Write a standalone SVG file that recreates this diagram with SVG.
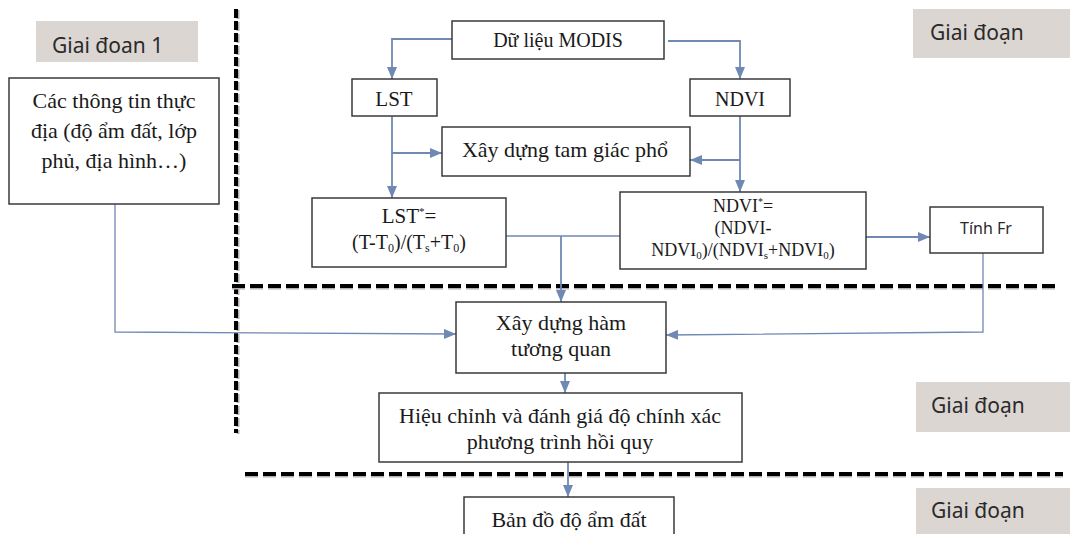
<svg xmlns="http://www.w3.org/2000/svg" width="1070" height="534" viewBox="0 0 1070 534">
<style>
.box{fill:#fff;stroke:#3a3a3a;stroke-width:1.5}
.stage{fill:#dcd6d2}
.t{font-family:"Liberation Serif","Times New Roman",serif;fill:#1a1a1a;text-anchor:middle}
.s{font-family:"Noto Sans","Open Sans",sans-serif;fill:#2a2a2a}
.c{fill:none;stroke:#7089b4;stroke-width:1.8}
.cl{fill:none;stroke:#7089b4;stroke-width:1.3}
.dash{fill:none;stroke:#000;stroke-width:4}
.dsh{fill:none;stroke:#b8b0ae;stroke-width:3}
</style>
<defs>
<marker id="ah" viewBox="0 0 12 10" refX="12" refY="5" markerWidth="12" markerHeight="10" markerUnits="userSpaceOnUse" orient="auto">
<path d="M0,0 L12,5 L0,10 z" fill="#7089b4"/>
</marker>
</defs>

<g id="dividers">
<line class="dsh" x1="238" y1="10" x2="238" y2="434" stroke-dasharray="9 3"/>
<line class="dash" x1="236" y1="9" x2="236" y2="433" stroke-dasharray="9 3"/>
<line class="dsh" x1="232" y1="288" x2="1060" y2="288" stroke-dasharray="13 5"/>
<line class="dash" x1="232" y1="286" x2="1060" y2="286" stroke-dasharray="13 5"/>
<line class="dsh" x1="245" y1="476" x2="1063" y2="476" stroke-dasharray="13 5"/>
<line class="dash" x1="245" y1="474" x2="1063" y2="474" stroke-dasharray="13 5"/>
</g>

<g id="stage1"><rect class="stage" x="36" y="21" width="162" height="41"/><text class="s" x="52" y="53" font-size="21">Giai đoan 1</text></g>
<g id="stage2a"><rect class="stage" x="913" y="9" width="157" height="49"/><text class="s" x="930" y="40" font-size="21">Giai đoạn</text></g>
<g id="stage2b"><rect class="stage" x="916" y="382" width="154" height="50"/><text class="s" x="931" y="413" font-size="21">Giai đoạn</text></g>
<g id="stage3"><rect class="stage" x="916" y="488" width="154" height="46"/><text class="s" x="931" y="518" font-size="21">Giai đoạn</text></g>

<g id="connectors">
<polyline class="c" points="452,39 392,39 392,79" marker-end="url(#ah)"/>
<polyline class="c" points="668,41 740,41 740,79" marker-end="url(#ah)"/>
<line class="c" x1="392" y1="116" x2="392" y2="198" marker-end="url(#ah)"/>
<line class="c" x1="392" y1="153" x2="442" y2="153" marker-end="url(#ah)"/>
<line class="c" x1="740" y1="116" x2="740" y2="192" marker-end="url(#ah)"/>
<line class="c" x1="740" y1="160" x2="690" y2="160" marker-end="url(#ah)"/>
<line class="cl" x1="506" y1="236" x2="620" y2="236"/>
<line class="c" x1="561" y1="236" x2="561" y2="302" marker-end="url(#ah)"/>
<line class="c" x1="866" y1="237" x2="930" y2="237" marker-end="url(#ah)"/>
<polyline class="cl" points="115,204 115,332 456,334" marker-end="url(#ah)"/>
<polyline class="cl" points="983,253 983,332 666,335" marker-end="url(#ah)"/>
<line class="c" x1="565" y1="373" x2="565" y2="393" marker-end="url(#ah)"/>
<line class="c" x1="568" y1="462" x2="568" y2="497" marker-end="url(#ah)"/>
</g>

<g id="field"><rect class="box" x="9" y="78" width="210" height="126"/>
<text class="t" font-size="22"><tspan x="114" y="108">Các thông tin thực</tspan><tspan x="114" y="138">địa (độ ẩm đất, lớp</tspan><tspan x="114" y="168">phủ, địa hình…)</tspan></text></g>

<g id="modis"><rect class="box" x="452" y="21" width="212" height="38"/><text class="t" x="558" y="47" font-size="20">Dữ liệu MODIS</text></g>
<g id="lst"><rect class="box" x="352" y="79" width="85" height="37"/><text class="t" x="394" y="106" font-size="21">LST</text></g>
<g id="ndvi"><rect class="box" x="690" y="79" width="100" height="37"/><text class="t" x="740" y="106" font-size="20">NDVI</text></g>
<g id="tamgiac"><rect class="box" x="442" y="127" width="248" height="49"/><text class="t" x="565" y="157" font-size="22">Xây dựng tam giác phổ</text></g>

<g id="lststar"><rect class="box" x="312" y="198" width="194" height="69"/>
<text class="t" x="409" y="223" font-size="21">LST<tspan font-size="11" dy="-8">*</tspan><tspan dy="8">=</tspan></text>
<text class="t" x="409" y="249" font-size="20">(T-T<tspan font-size="12" dy="3">0</tspan><tspan dy="-3">)/(T</tspan><tspan font-size="12" dy="3">s</tspan><tspan dy="-3">+T</tspan><tspan font-size="12" dy="3">0</tspan><tspan dy="-3">)</tspan></text></g>

<g id="ndvistar"><rect class="box" x="620" y="192" width="246" height="77"/>
<text class="t" x="743" y="212" font-size="18">NDVI<tspan font-size="10" dy="-7">*</tspan><tspan dy="7">=</tspan></text>
<text class="t" x="743" y="234" font-size="18">(NDVI-</text>
<text class="t" x="743" y="256" font-size="18">NDVI<tspan font-size="11" dy="3">0</tspan><tspan dy="-3">)/(NDVI</tspan><tspan font-size="11" dy="3">s</tspan><tspan dy="-3">+NDVI</tspan><tspan font-size="11" dy="3">0</tspan><tspan dy="-3">)</tspan></text></g>

<g id="tinhfr"><rect class="box" x="930" y="207" width="113" height="46"/><text class="s" x="986" y="234" font-size="16" text-anchor="middle">Tính Fr</text></g>

<g id="ham"><rect class="box" x="456" y="302" width="210" height="71"/>
<text class="t" font-size="22"><tspan x="561" y="330">Xây dựng hàm</tspan><tspan x="561" y="356">tương quan</tspan></text></g>

<g id="hieuchinh"><rect class="box" x="379" y="393" width="363" height="69"/>
<text class="t" font-size="22"><tspan x="560" y="423">Hiệu chỉnh và đánh giá độ chính xác</tspan><tspan x="560" y="449">phương trình hồi quy</tspan></text></g>

<g id="bando"><rect class="box" x="464" y="497" width="210" height="50"/><text class="t" x="569" y="527" font-size="22">Bản đồ độ ẩm đất</text></g>
</svg>
